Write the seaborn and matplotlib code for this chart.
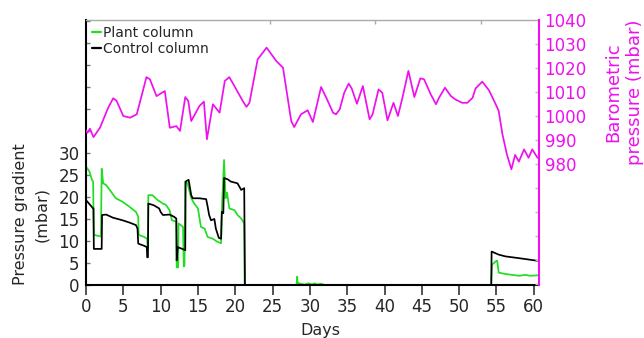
import numpy as np
import pandas as pd
import matplotlib
matplotlib.use("Agg")
import matplotlib.pyplot as plt
import seaborn as sns

# ---------------- data ----------------
plant_days = [0.0, 0.45, 0.8, 0.95, 1.05, 2.0, 2.1, 2.3, 2.7, 3.35, 4.0, 4.9, 5.8, 6.7, 7.0, 7.05,
              7.8, 8.2, 8.25, 8.3, 8.35, 8.9, 9.6, 10.3, 10.7, 11.2, 11.5, 12.1, 12.15, 12.35, 12.4,
              12.7, 13.0, 13.1, 13.2, 13.3, 13.6, 14.1, 14.5, 15.0, 15.4, 15.9, 16.3, 17.0, 17.6,
              18.1, 18.2, 18.5, 18.7, 18.9, 19.2, 19.9, 20.3, 20.8, 21.2, 21.25, 28.2, 28.3, 28.35,
              28.5, 29.3, 29.8, 30.3, 30.6, 31.0, 31.5, 32.0, 54.3, 54.4, 55.0, 55.1, 55.3, 56.2,
              57.1, 58.0, 58.9, 59.5, 60.5]
plant_vals = [26.9, 25.8, 23.9, 23.5, 11.4, 11.0, 26.4, 23.1, 22.7, 21.2, 19.7, 18.9, 17.8, 16.6, 15.5, 11.4,
              10.9, 10.5, 8.2, 8.2, 20.4, 20.4, 19.3, 18.5, 18.2, 17.0, 14.7, 14.4, 4.0, 4.0, 14.0,
              13.6, 13.2, 4.2, 4.5, 23.5, 23.1, 19.7, 18.5, 17.4, 13.2, 12.8, 10.9, 10.5, 9.8,
              9.5, 17.0, 28.4, 19.7, 21.0, 17.4, 17.0, 15.9, 15.1, 14.0, 0.0, 0.0, 1.9, 0.3,
              0.4, 0.1, 0.4, 0.1, 0.4, 0.1, 0.3, 0.0, 0.0, 4.6, 5.5, 5.5, 2.8, 2.5,
              2.3, 2.1, 2.3, 2.1, 2.2]

control_days = [0.0, 0.6, 0.9, 1.0, 1.05, 2.0, 2.1, 2.15, 2.7, 3.6, 4.9, 5.8, 6.7, 6.9, 7.0, 7.8,
                8.15, 8.2, 8.3, 8.35, 9.1, 9.8, 10.0, 10.3, 11.2, 11.8, 12.1, 12.15, 12.3, 12.9,
                13.3, 13.35, 13.75, 14.1, 14.3, 15.2, 16.1, 16.3, 16.5, 16.75, 17.2, 17.4, 17.8,
                18.1, 18.2, 18.4, 18.5, 19.0, 19.4, 20.3, 20.8, 21.2, 21.3, 54.3, 54.35, 55.3,
                56.2, 58.0, 60.5]
control_vals = [19.3, 18.1, 17.5, 17.4, 8.2, 8.2, 8.2, 15.9, 16.0, 15.3, 14.7, 14.2, 13.6, 12.8, 9.4, 8.9,
                8.6, 6.3, 6.3, 18.5, 18.1, 17.4, 16.6, 15.9, 16.0, 15.5, 15.1, 5.6, 8.6, 8.2,
                7.9, 23.5, 23.9, 20.4, 19.7, 19.7, 19.5, 17.8, 15.9, 14.7, 15.0, 12.8, 10.7,
                10.5, 16.6, 16.3, 24.3, 24.0, 23.5, 23.1, 21.6, 22.0, 0.0, 0.0, 7.6, 6.9,
                6.5, 6.1, 5.5]

baro_days = [0.0, 0.17, 0.53, 1.0, 1.87, 2.98, 3.65, 4.1, 5.0, 5.9, 6.8, 8.1, 8.56, 9.45, 10.56,
             11.23, 12.1, 12.6, 13.3, 13.7, 14.1, 15.2, 15.8, 16.2, 17.0, 17.9, 18.6, 19.2, 19.7,
             21.0, 21.5, 21.9, 23.0, 24.2, 25.5, 26.4, 27.5, 27.9, 28.8, 29.7, 30.4, 31.5, 32.2,
             33.1, 33.5, 34.0, 34.6, 35.2, 35.6, 36.3, 37.1, 38.0, 38.4, 39.2, 39.7, 40.4, 41.2,
             41.8, 42.4, 43.2, 44.0, 44.8, 45.3, 46.2, 46.9, 47.3, 48.1, 48.9, 49.5, 50.4, 51.1,
             51.8, 52.2, 53.1, 54.0, 54.9, 55.3, 55.8, 56.4, 57.0, 57.5, 58.0, 58.7, 59.3, 59.8,
             60.5]
baro_vals = [994.0, 993.0, 994.7, 991.2, 995.1, 1003.5, 1007.4, 1006.3, 1000.0, 999.3, 1000.7, 1016.2,
             1015.3, 1008.3, 1010.4, 995.1, 995.8, 993.8, 1007.9, 1006.3, 997.9, 1004.2, 1006.0,
             990.3, 1004.9, 1001.4, 1014.6, 1016.2, 1013.5, 1006.3, 1003.8, 1005.5, 1023.6,
             1028.5, 1022.9, 1020.1, 997.9, 995.4, 1000.7, 1002.4, 997.5, 1012.1, 1007.6,
             1001.4, 1000.7, 1002.8, 1009.7, 1013.5, 1011.5, 1005.1, 1012.5, 998.6, 1000.7,
             1011.1, 1009.7, 998.2, 1005.5, 1000.0, 1007.6, 1018.8, 1007.9, 1015.7, 1015.3,
             1009.0, 1004.9, 1007.6, 1011.8, 1008.3, 1006.9, 1005.5, 1005.5, 1007.6, 1011.5,
             1014.3, 1010.7, 1004.9, 1002.1, 992.4, 984.0, 977.8, 983.8, 981.0, 986.1, 982.6,
             986.1, 982.6]

left_ticks = [0, 5, 10, 15, 20, 25, 30, 35, 40, 45, 50, 55, 60]
left_labels = ["0", "5", "10", "15", "20", "25", "30", "", "", "", "", "", ""]
right_ticks = [930, 940, 950, 960, 970, 980, 990, 1000, 1010, 1020, 1030, 1040]
right_labels = ["", "", "", "", "", "980", "990", "1000", "1010", "1020", "1030", "1040"]
x_ticks = [0, 5, 10, 15, 20, 25, 30, 35, 40, 45, 50, 55, 60]
top_ticks = [24.7, 38.7, 52.9]

GREEN = "#22dd22"
MAG = "#ee10ee"
LW = 1.25

sns.set_style("white")
plt.rcParams["font.family"] = ["DejaVu Sans"]

fig = plt.figure(figsize=(6.44, 3.38), dpi=100)
W, H = 644, 338
ax = fig.add_axes([86 / W, 1 - 285 / H, (539 - 86) / W, (285 - 20) / H])

sns.lineplot(x=plant_days, y=plant_vals, ax=ax, color=GREEN, lw=LW,
             estimator=None, sort=False, label="Plant column")
sns.lineplot(x=control_days, y=control_vals, ax=ax, color="black", lw=LW,
             estimator=None, sort=False, label="Control column")

ax2 = ax.twinx()
sns.lineplot(x=baro_days, y=baro_vals, ax=ax2, color=MAG, lw=LW,
             estimator=None, sort=False)

ax.set_xlim(0, 60.7)
ax.set_ylim(0, 60.2)
ax2.set_ylim(929.6, 1040)

ax.set_xticks(x_ticks)
ax.set_xticklabels([str(t) for t in x_ticks])
ax.set_yticks(left_ticks)
ax.set_yticklabels(left_labels)
ax2.set_yticks(right_ticks)
ax2.set_yticklabels(right_labels)

ax.set_xlabel("")
ax.set_ylabel("")
ax2.set_ylabel("")

ax.tick_params(axis="x", direction="out", length=7, width=1.2, color="#333333",
               labelsize=12, pad=2, bottom=True)
ax.tick_params(axis="y", direction="in", length=3, width=1, color="#777777",
               labelsize=12, pad=4.5, left=True)
ax2.tick_params(axis="y", direction="in", length=3, width=1, color="#bbbbbb",
                labelsize=12, labelcolor=MAG, pad=4, right=True)

for s in ["left", "bottom"]:
    ax.spines[s].set_color("black")
    ax.spines[s].set_linewidth(1.5)
ax.spines["right"].set_visible(False)
ax.spines["top"].set_color("#aaaaaa")
ax.spines["top"].set_linewidth(1.0)
for s in ["left", "bottom", "top"]:
    ax2.spines[s].set_visible(False)
ax2.spines["right"].set_color(MAG)
ax2.spines["right"].set_linewidth(1.5)

sec = ax.secondary_xaxis("top")
sec.set_xticks(top_ticks)
sec.tick_params(direction="in", length=3, width=1, color="#aaaaaa", labeltop=False)
sec.spines["top"].set_visible(False)

leg = ax.legend(loc="upper left", bbox_to_anchor=(0.0, 1.0), frameon=False, fontsize=10,
                handlelength=0.6, handletextpad=0.15, borderaxespad=0.25, labelspacing=0.12,
                borderpad=0.2)
for line in leg.get_lines():
    line.set_linewidth(1.6)

fig.text(31 / W, 1 - 214 / H, "Pressure gradient\n(mbar)", rotation=90, ha="center",
         va="center", fontsize=11.5, linespacing=1.45, multialignment="center")
fig.text(624 / W, 1 - 92 / H, "Barometric\npressure (mbar)", rotation=90, ha="center",
         va="center", fontsize=13, linespacing=1.3, color=MAG, multialignment="center")
fig.text(320 / W, 1 - 323 / H, "Days", ha="center", va="top", fontsize=11.5)

fig.savefig("out.png", dpi=100)
